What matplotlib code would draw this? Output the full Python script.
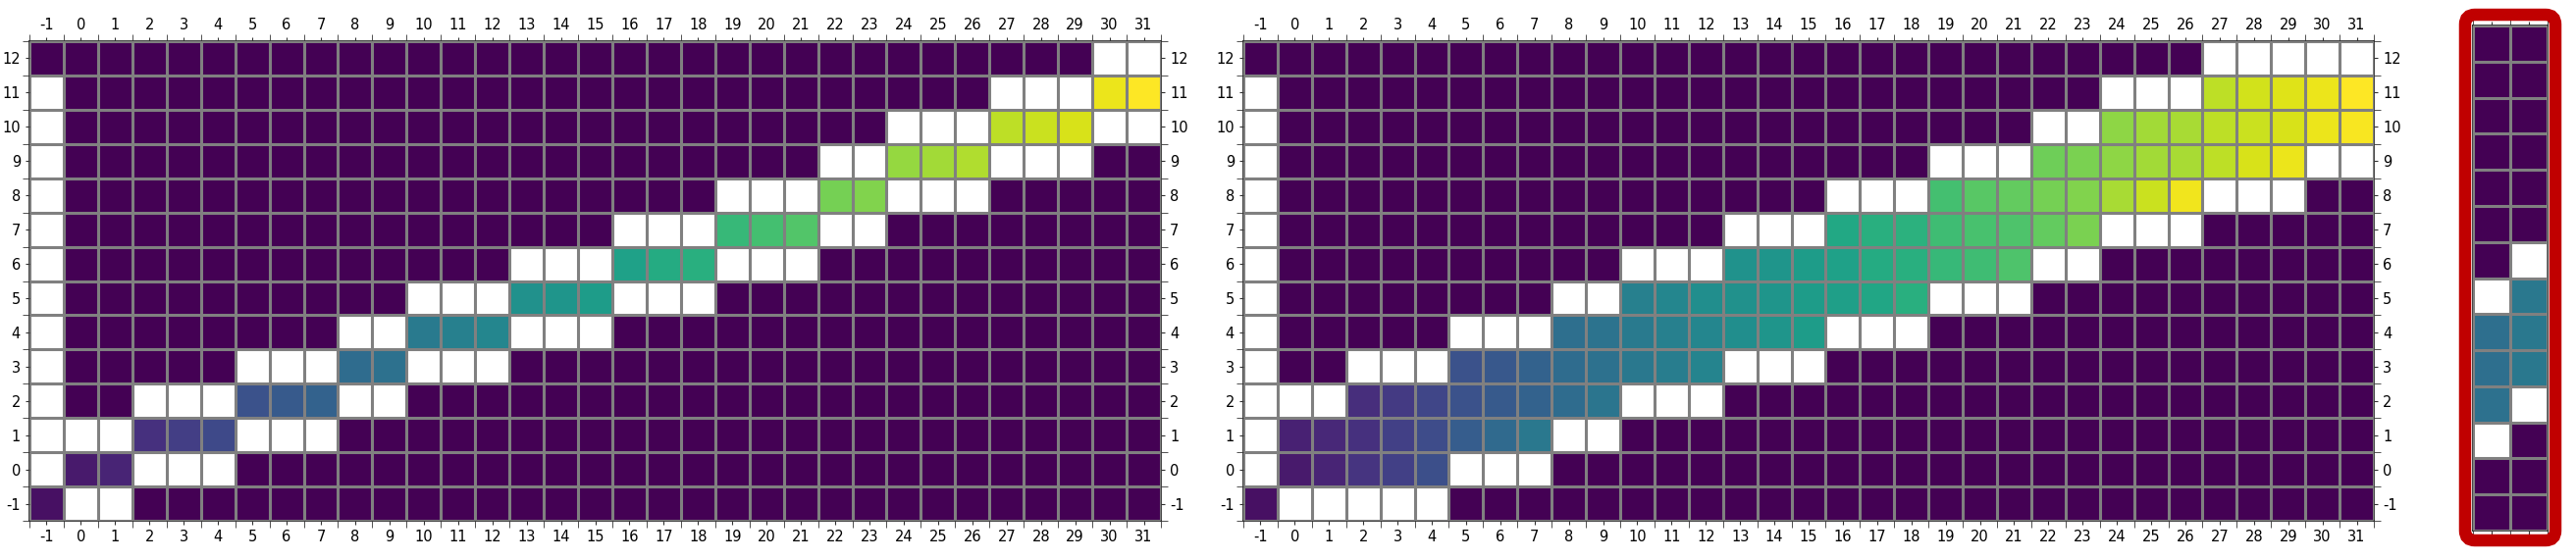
import numpy as np
import matplotlib
matplotlib.use('Agg')
import matplotlib.pyplot as plt
from matplotlib.patches import FancyBboxPatch
from matplotlib.transforms import IdentityTransform

plt.rcParams['axes.unicode_minus'] = False

cols = list(range(-1, 32))
rows = list(range(-1, 13))

# left: warping path (first column of each row, values), rows -1..12
path_start = [-1, 0, 2, 5, 8, 10, 13, 16, 19, 22, 24, 27, 30, None]
path_vals = [
    [0.04],
    [0.07, 0.10],
    [0.14, 0.18, 0.22],
    [0.25, 0.28, 0.31],
    [0.35, 0.37],
    [0.41, 0.43, 0.46],
    [0.50, 0.52, 0.55],
    [0.57, 0.61, 0.63],
    [0.67, 0.70, 0.73],
    [0.79, 0.81],
    [0.84, 0.86, 0.88],
    [0.90, 0.92, 0.94],
    [0.97, 1.00],
    [],
]
path_white = [
    [0, 1],
    [-1, 2, 3, 4],
    [-1, 0, 1, 5, 6, 7],
    [-1, 2, 3, 4, 8, 9],
    [-1, 5, 6, 7, 10, 11, 12],
    [-1, 8, 9, 13, 14, 15],
    [-1, 10, 11, 12, 16, 17, 18],
    [-1, 13, 14, 15, 19, 20, 21],
    [-1, 16, 17, 18, 22, 23],
    [-1, 19, 20, 21, 24, 25, 26],
    [-1, 22, 23, 27, 28, 29],
    [-1, 24, 25, 26, 30, 31],
    [-1, 27, 28, 29],
    [30, 31],
]

# middle: band of cells around the path
band_start = [-1, 0, 0, 2, 5, 8, 10, 13, 16, 19, 22, 24, 27, None]
band_vals = [
    [0.04],
    [0.07, 0.10, 0.15, 0.19, 0.24],
    [0.09, 0.11, 0.14, 0.19, 0.23, 0.29, 0.34, 0.40],
    [0.13, 0.17, 0.21, 0.25, 0.28, 0.31, 0.35, 0.39],
    [0.25, 0.27, 0.31, 0.35, 0.37, 0.40, 0.42, 0.45],
    [0.36, 0.38, 0.41, 0.43, 0.46, 0.49, 0.52, 0.55],
    [0.43, 0.46, 0.49, 0.50, 0.52, 0.55, 0.56, 0.59, 0.63],
    [0.51, 0.52, 0.55, 0.57, 0.61, 0.63, 0.67, 0.69, 0.72],
    [0.60, 0.63, 0.64, 0.69, 0.71, 0.72, 0.76, 0.80],
    [0.70, 0.74, 0.76, 0.79, 0.81, 0.87, 0.92, 0.98],
    [0.78, 0.80, 0.83, 0.86, 0.87, 0.90, 0.94, 0.97],
    [0.83, 0.86, 0.87, 0.90, 0.92, 0.94, 0.97, 0.99],
    [0.90, 0.93, 0.95, 0.97, 1.00],
    [],
]
band_white = [
    [0, 1, 2, 3, 4],
    [-1, 5, 6, 7],
    [-1, 8, 9],
    [-1, 0, 1, 10, 11, 12],
    [-1, 2, 3, 4, 13, 14, 15],
    [-1, 5, 6, 7, 16, 17, 18],
    [-1, 8, 9, 19, 20, 21],
    [-1, 10, 11, 12, 22, 23],
    [-1, 13, 14, 15, 24, 25, 26],
    [-1, 16, 17, 18, 27, 28, 29],
    [-1, 19, 20, 21, 30, 31],
    [-1, 22, 23],
    [-1, 24, 25, 26],
    [27, 28, 29, 30, 31],
]

# right: two-column detail, rows -1..12 (nan = white)
nan = np.nan
detail_cols = [0, 1]
detail = [
    [0, 0],
    [0, 0],
    [nan, 0],
    [0.37, nan],
    [0.36, 0.40],
    [0.36, 0.40],
    [nan, 0.40],
    [0, nan],
    [0, 0],
    [0, 0],
    [0, 0],
    [0, 0],
    [0, 0],
    [0, 0],
]


def build(starts, vals, whites):
    m = np.zeros((len(rows), len(cols)))
    for i in range(len(rows)):
        if starts[i] is not None:
            j0 = cols.index(starts[i])
            m[i, j0:j0 + len(vals[i])] = vals[i]
        for c in whites[i]:
            m[i, cols.index(c)] = np.nan
    return np.ma.masked_invalid(m)


def edges(v):
    v = np.asarray(v, dtype=float)
    return np.append(v - 0.5, v[-1] + 0.5)


cmap = plt.get_cmap('viridis').copy()
cmap.set_bad('white')


def draw(ax, m, xs, ys, labels=True):
    xe, ye = edges(xs), edges(ys)
    ax.pcolormesh(xe, ye, m, cmap=cmap, vmin=0, vmax=1)
    ax.set_xlim(xe[0], xe[-1])
    ax.set_ylim(ye[0], ye[-1])
    ax.set_xticks(xs)
    ax.set_yticks(ys)
    ax.set_xticks(xe, minor=True)
    ax.set_yticks(ye, minor=True)
    ax.set_axisbelow(False)
    ax.grid(which='minor', color='gray', linewidth=2.2)
    ax.grid(which='major', visible=False)
    ax.tick_params(which='both', top=True, right=True, direction='out', color='#333333')
    ax.tick_params(which='major', length=3, labelsize=10.5)
    ax.tick_params(which='minor', length=5)
    if labels:
        ax.tick_params(labeltop=True, labelright=True)
    else:
        ax.tick_params(labelbottom=False, labelleft=False, left=False, right=False,
                       which='both')
    for s in ax.spines.values():
        s.set_linewidth(1.2)
        s.set_color('#222222')


W, H = 2625, 571
fig = plt.figure(figsize=(W / 100, H / 100), dpi=100)

ax1 = fig.add_axes([30 / W, 40 / H, 1153 / W, 489 / H])
draw(ax1, build(path_start, path_vals, path_white), cols, rows)

ax2 = fig.add_axes([1267 / W, 40 / H, 1152 / W, 489 / H])
draw(ax2, build(band_start, band_vals, band_white), cols, rows)

ax3 = fig.add_axes([2520 / W, 30 / H, 76 / W, 515 / H])
draw(ax3, np.ma.masked_invalid(np.array(detail)), detail_cols, rows, labels=False)

box = FancyBboxPatch((2512, H - 551), 92, 536,
                     boxstyle='round,pad=0,rounding_size=10',
                     transform=IdentityTransform(), fill=False,
                     edgecolor='#c00000', linewidth=9)
fig.patches.append(box)

fig.savefig('out.png', dpi=100)
